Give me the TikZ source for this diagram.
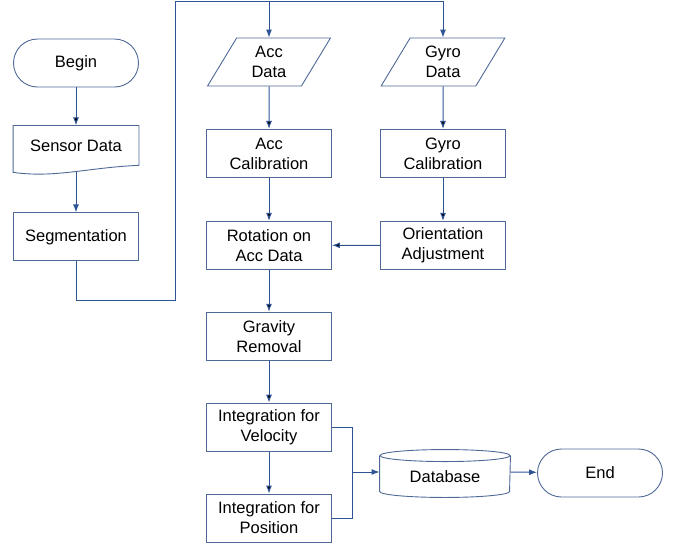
\documentclass[tikz,border=0pt]{standalone}
\usepackage{fontspec}
\setmainfont{Liberation Sans}
\usetikzlibrary{arrows.meta,positioning,shapes.geometric}
\definecolor{boxline}{RGB}{78,105,150}
\definecolor{flowline}{RGB}{47,84,150}

\begin{document}
\begin{tikzpicture}[x=1pt,y=1pt,>={Latex[length=8pt,width=6pt]},
    every node/.style={font=\fontsize{16.5}{20}\selectfont, line width=0.9pt}]
        \tikzset{block/.style= {draw=boxline, rectangle, align=center,minimum width=125pt,minimum height=48pt},
        rblock/.style={draw=boxline, shape=rectangle,rounded corners=24pt,align=center,minimum width=125pt,minimum height=48pt},
        input/.style={ % requires library shapes.geometric
        draw=boxline,
        trapezium,
        trapezium left angle=64,
        trapezium right angle=116,
        trapezium stretches=true,
        minimum width=124pt,
        align=center,
        minimum height=48pt
    },
        doc/.style={rectangle, align=center, minimum width=125pt, minimum height=40pt},
        store/.style={rectangle, align=center, minimum width=130pt, minimum height=41pt},
        link/.style={draw=flowline, line width=1pt},
        }
        \useasboundingbox (0,0) rectangle (681,-547);

        \node [rblock] at (76,-63) (begin) {Begin};
        \node [doc, below =38pt of begin] (sensor) {Sensor Data};
        \node [block, below =46pt of sensor] (seg) {Segmentation};

        \node [input] at (269,-62) (accdata) {Acc\\Data};
        \node [input] at (443,-62) (gyrodata) {Gyro\\Data};
        \node [block, below =42.5pt of accdata] (acccal) {Acc\\Calibration};
        \node [block, below =42.5pt of gyrodata] (gyrocal) {Gyro\\Calibration};
        \node [block, below =43pt of acccal] (rotation) {Rotation on\\Acc Data};
        \node [block, below =43pt of gyrocal] (orient) {Orientation\\Adjustment};
        \node [block, below =42pt of rotation] (gravity) {Gravity\\Removal};
        \node [block, below =42pt of gravity] (velocity) {Integration for\\Velocity};
        \node [block, below =42pt of velocity] (position) {Integration for\\Position};

        \node [store] at (445,-476.5) (db) {Database};
        \node [rblock] at (600,-473) (end) {End};

%% outlines of the document and storage shapes
        \draw[boxline, line width=0.9pt] (sensor.north west) -- ([yshift=-6pt]sensor.south west)
            .. controls +(42,-6) and +(-50,-2) .. ([yshift=1pt]sensor.south east)
            -- (sensor.north east) -- cycle;
        \draw[boxline, line width=0.9pt] (db.north) ellipse (65pt and 6pt);
        \draw[boxline, line width=0.9pt] (db.north west) -- ([yshift=6pt]db.south west)
            arc (180:360:65pt and 6pt) -- (db.north east);

%% paths
        \coordinate (sensorfoot) at ([yshift=-6pt]sensor.south);
        \coordinate (low) at ([yshift=-39pt]seg.south);
        \coordinate (top) at (175,-1);
        \coordinate (join) at (352,-472);

        \path[link,->] (begin) edge (sensor)
                    (accdata) edge (acccal)
                    (gyrodata) edge (gyrocal)
                    (acccal) edge (rotation)
                    (gyrocal) edge (orient)
                    (orient) edge (rotation)
                    (rotation) edge (gravity)
                    (gravity) edge (velocity)
                    (velocity) edge (position);
        \draw[link,->] (sensorfoot) -- (seg);
        \draw[link,->] (seg) -- (low) -| (top) -| (accdata);
        \draw[link,->] (top) -| (gyrodata);
        \draw[link] (velocity.east) -| (join);
        \draw[link] (position.east) -| (join);
        \draw[link,->] (join) -- (join -| db.west);
        \draw[link,->] (db.east |- join) -- (end);
    \end{tikzpicture}
\end{document}
